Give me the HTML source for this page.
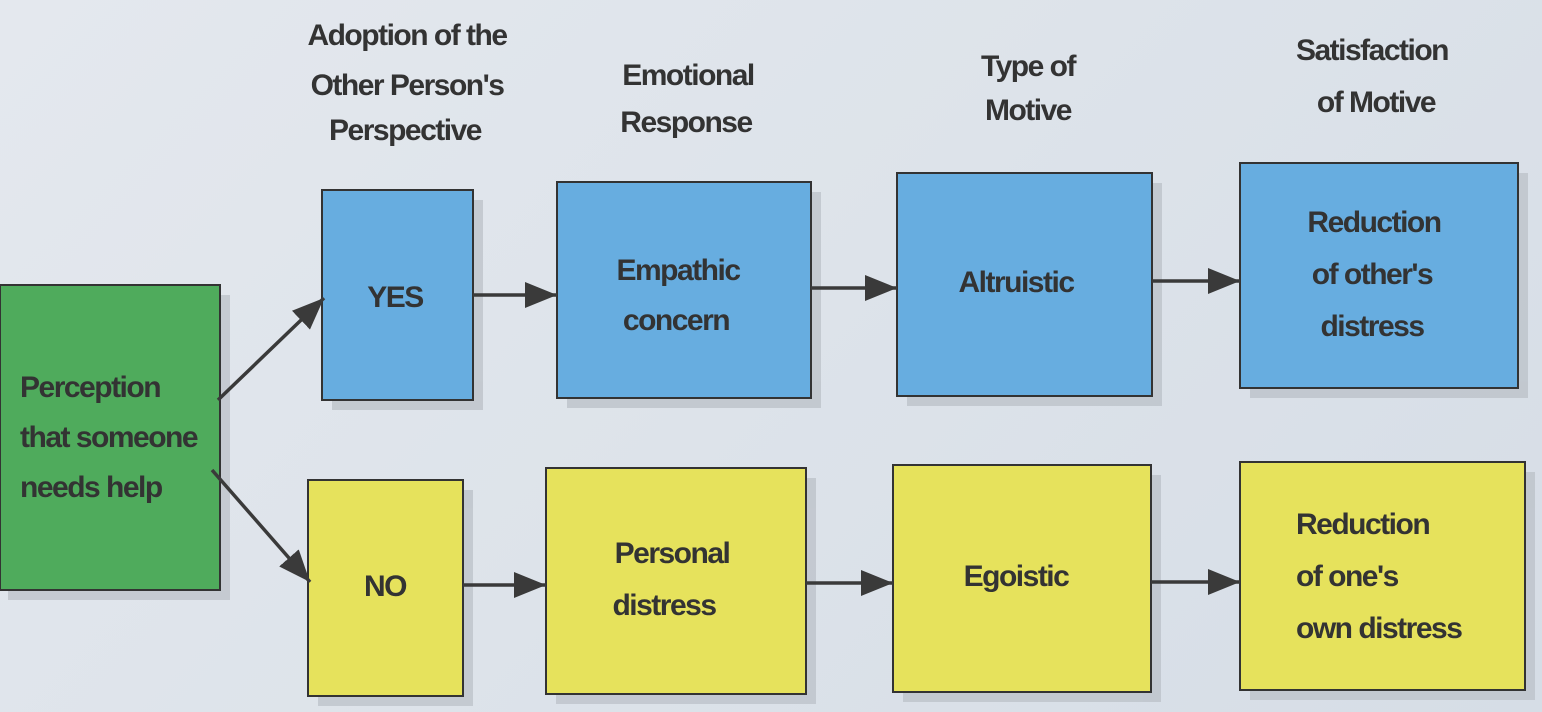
<!DOCTYPE html>
<html><head><meta charset="utf-8"><style>
html,body{margin:0;padding:0;width:1542px;height:712px;overflow:hidden}
body{background:linear-gradient(135deg,#e4e8ee 0%,#dde3ea 50%,#d6dde6 100%)}
svg{display:block}
text{font-family:"Liberation Sans Narrow","Liberation Sans",sans-serif;fill:#333;font-size:30px;font-weight:bold;text-anchor:middle;letter-spacing:-1.5px}
</style></head><body>
<svg width="1542" height="712" viewBox="0 0 1542 712">
<defs>
<marker id="ar" viewBox="0 0 10 10" refX="10" refY="5" markerWidth="32" markerHeight="26" orient="auto" markerUnits="userSpaceOnUse" preserveAspectRatio="none"><path d="M0,0 L10,5 L0,10 z" fill="#3a3a3a"/></marker>
</defs>
<g fill="#b9bfc6" opacity="0.7">
<rect x="8" y="295" width="222" height="305"/>
<rect x="332" y="200" width="151" height="210"/>
<rect x="567" y="192" width="254" height="216"/>
<rect x="907" y="183" width="255" height="223"/>
<rect x="1250" y="173" width="278" height="225"/>
<rect x="318" y="490" width="155" height="216"/>
<rect x="556" y="478" width="260" height="226"/>
<rect x="903" y="475" width="258" height="227"/>
<rect x="1250" y="472" width="285" height="228"/>
</g>
<g stroke="#333" stroke-width="2">
<rect x="0" y="285" width="220" height="305" fill="#4fab5c"/>
<rect x="322" y="190" width="151" height="210" fill="#67ade0"/>
<rect x="557" y="182" width="254" height="216" fill="#67ade0"/>
<rect x="897" y="173" width="255" height="223" fill="#67ade0"/>
<rect x="1240" y="163" width="278" height="225" fill="#67ade0"/>
<rect x="308" y="480" width="155" height="216" fill="#e6e25c"/>
<rect x="546" y="468" width="260" height="226" fill="#e6e25c"/>
<rect x="893" y="465" width="258" height="227" fill="#e6e25c"/>
<rect x="1240" y="462" width="285" height="228" fill="#e6e25c"/>
</g>
<g stroke="#3a3a3a" stroke-width="3.5" fill="none" marker-end="url(#ar)">
<line x1="218" y1="400" x2="324" y2="298"/>
<line x1="212" y1="470" x2="310" y2="582"/>
<line x1="473" y1="295" x2="557" y2="295"/>
<line x1="811" y1="288" x2="897" y2="288"/>
<line x1="1152" y1="281" x2="1240" y2="281"/>
<line x1="463" y1="585" x2="546" y2="585"/>
<line x1="806" y1="583" x2="893" y2="583"/>
<line x1="1151" y1="582" x2="1240" y2="582"/>
</g>
<text x="407" y="45">Adoption of the</text>
<text x="407" y="95">Other Person's</text>
<text x="405" y="140">Perspective</text>
<text x="688" y="85">Emotional</text>
<text x="686" y="132">Response</text>
<text x="1028" y="76">Type of</text>
<text x="1028" y="120">Motive</text>
<text x="1372" y="60">Satisfaction</text>
<text x="1376" y="112">of Motive</text>
<text x="20" y="397" style="text-anchor:start">Perception</text>
<text x="20" y="447" style="text-anchor:start">that someone</text>
<text x="20" y="497" style="text-anchor:start">needs help</text>
<text x="395" y="307">YES</text>
<text x="678" y="280">Empathic</text>
<text x="676" y="330">concern</text>
<text x="1016" y="292">Altruistic</text>
<text x="1374" y="232">Reduction</text>
<text x="1372" y="284">of other's</text>
<text x="1372" y="336">distress</text>
<text x="385" y="596">NO</text>
<text x="672" y="563">Personal</text>
<text x="664" y="615">distress</text>
<text x="1016" y="586">Egoistic</text>
<text x="1296" y="534" style="text-anchor:start">Reduction</text>
<text x="1296" y="586" style="text-anchor:start">of one's</text>
<text x="1296" y="638" style="text-anchor:start">own distress</text>
</svg>
</body></html>
